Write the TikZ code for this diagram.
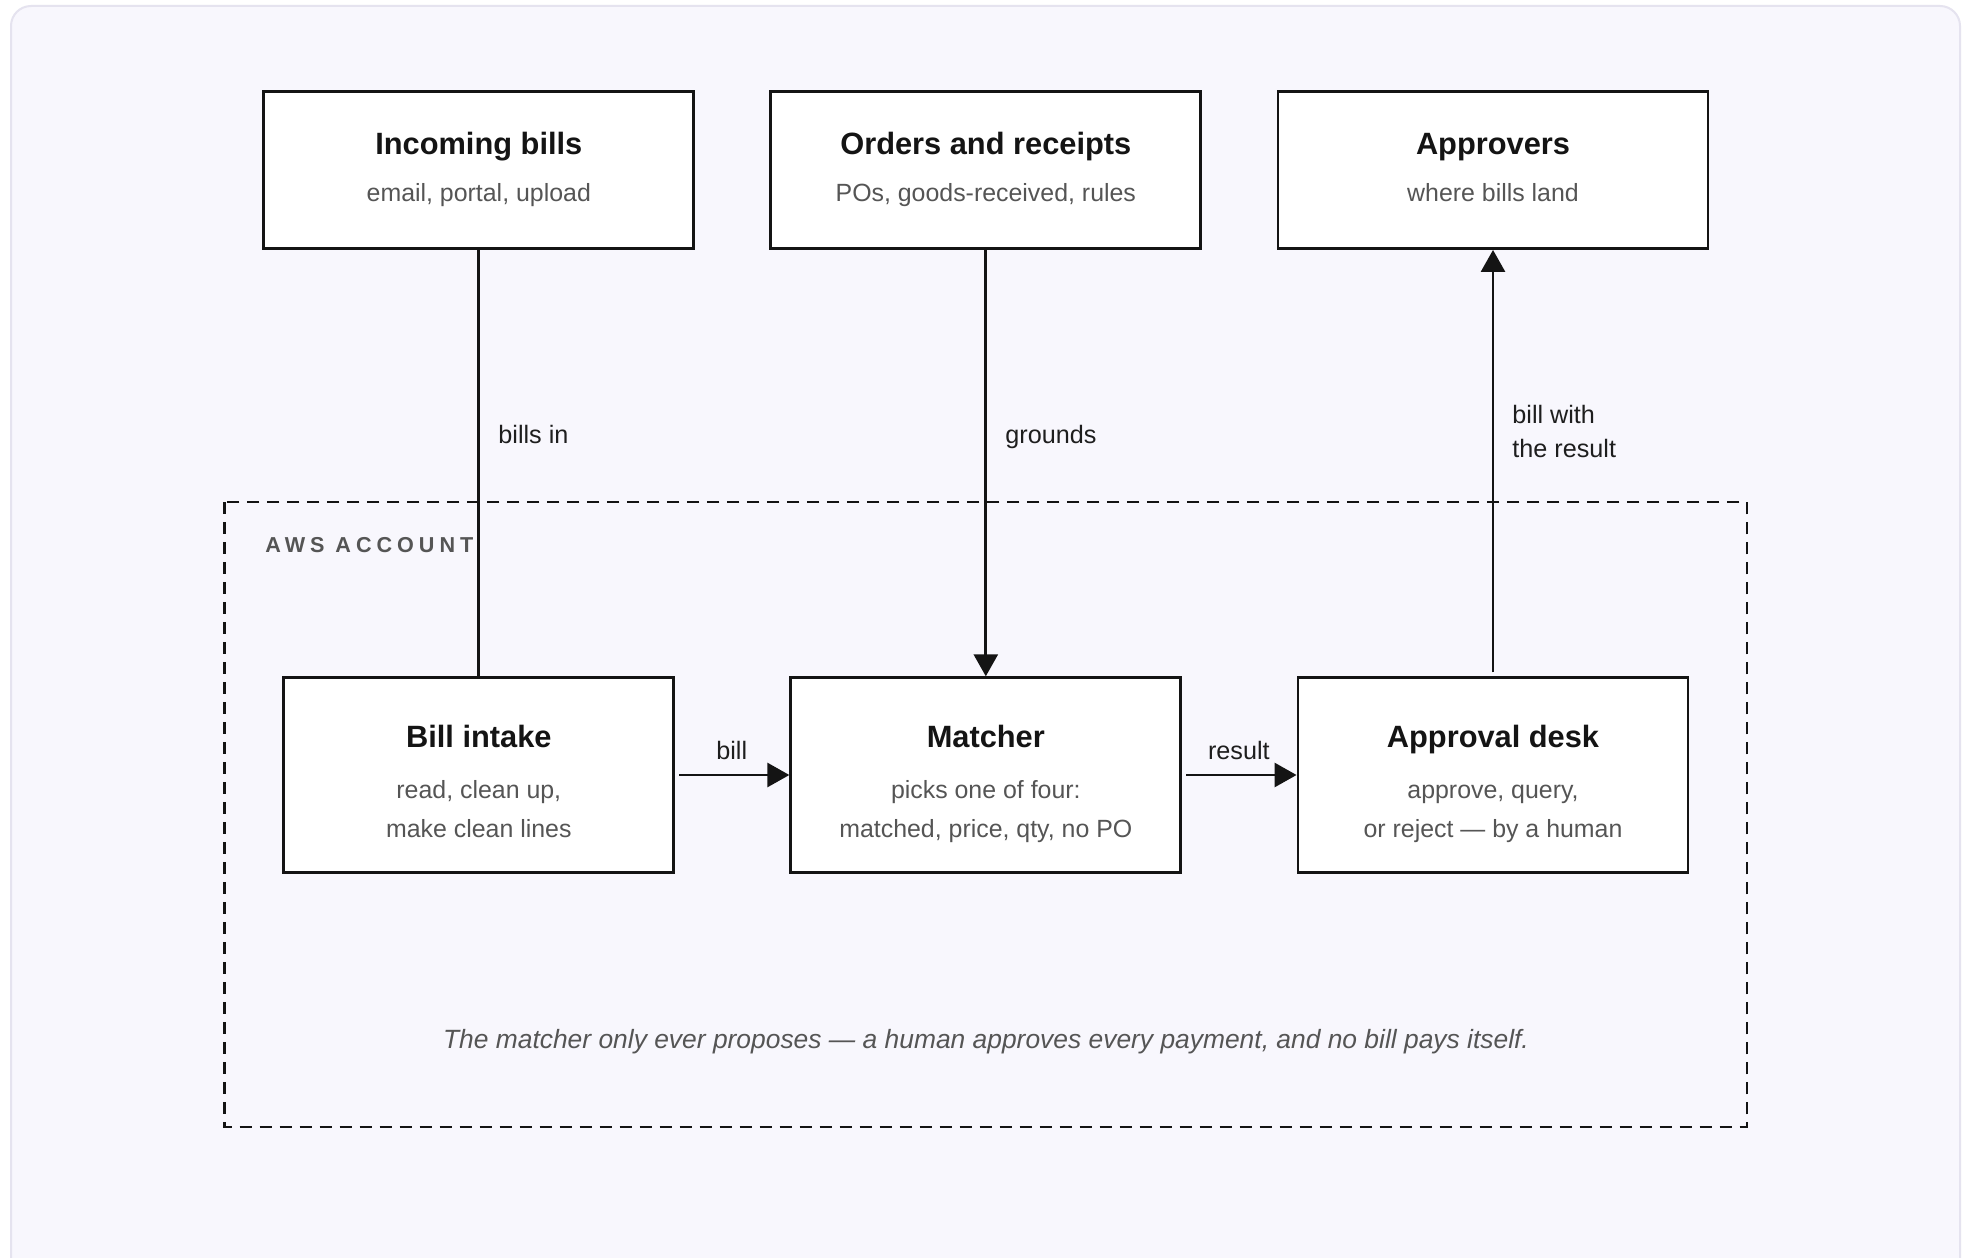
\documentclass[tikz,border=0pt]{standalone}
\usepackage{fontspec}
\setmainfont{Liberation Sans}
\usetikzlibrary{arrows.meta}
\definecolor{bgin}{HTML}{F8F7FD}
\definecolor{framec}{HTML}{E5E3EF}
\definecolor{ink}{HTML}{141414}
\definecolor{subc}{HTML}{555555}
\definecolor{labc}{HTML}{1E1E1E}
\definecolor{awsc}{HTML}{555555}
\tikzset{
  box/.style={draw=ink, line width=1.45pt, fill=white, rectangle, inner sep=0pt},
  topbox/.style={box, minimum width=215pt, minimum height=78.5pt},
  lowbox/.style={box, minimum width=195pt, minimum height=97.25pt},
  ttl/.style={inner sep=0pt, anchor=base, text=ink, font=\fontsize{15.4pt}{18pt}\selectfont\bfseries},
  sub/.style={inner sep=0pt, anchor=base, text=subc, font=\fontsize{12.45pt}{14pt}\selectfont},
  lab/.style={inner sep=0pt, anchor=base west, text=labc, font=\fontsize{12.6pt}{14pt}\selectfont},
  clab/.style={lab, anchor=base},
  conn/.style={draw=ink, line width=1.4pt},
  arr/.style={conn, -{Triangle[length=11pt,width=12pt]}},
  zone/.style={draw=ink, line width=1.3pt, dash pattern=on 6pt off 4pt}
}
\begin{document}
\begin{tikzpicture}[x=0.5pt,y=-0.5pt]
\useasboundingbox (0,0) rectangle (1968,1257);
\fill[white] (0,0) rectangle (1968,1257);
\begin{scope}
\clip (0,0) rectangle (1968,1257);
\draw[framec, line width=1pt, fill=bgin, rounded corners=10pt] (11,6) rectangle (1960,1300);
\end{scope}

% AWS account zone
\draw[zone] (224.7,502) rectangle (1747,1127);
\node[inner sep=0pt, anchor=base west, text=awsc, font=\fontsize{10.8pt}{12pt}\selectfont\bfseries\addfontfeature{LetterSpace=23}] (aws) at (265,552.7) {AWS ACCOUNT};

% top boxes
\node[topbox] (incoming) at (478.8,170) {};
\node[topbox] (orders) at (985.8,170) {};
\node[topbox] (approvers) at (1493,170) {};
\node[ttl] (incomingT) at (478.8,155) {Incoming bills};
\node[sub] (incomingS) at (478.8,202) {email, portal, upload};
\node[ttl] (ordersT) at (985.8,155) {Orders and receipts};
\node[sub] (ordersS) at (985.8,202) {POs, goods-received, rules};
\node[ttl] (approversT) at (1493,155) {Approvers};
\node[sub] (approversS) at (1493,202) {where bills land};

% lower boxes
\node[lowbox] (intake) at (478.8,775) {};
\node[lowbox] (matcher) at (985.8,775) {};
\node[lowbox] (approval) at (1493,775) {};
\node[ttl] (intakeT) at (478.8,747) {Bill intake};
\node[sub] (intakeS1) at (478.8,798) {read, clean up,};
\node[sub] (intakeS2) at (478.8,837) {make clean lines};
\node[ttl] (matcherT) at (985.8,747) {Matcher};
\node[sub] (matcherS1) at (985.8,798) {picks one of four:};
\node[sub] (matcherS2) at (985.8,837) {matched, price, qty, no PO};
\node[ttl] (approvalT) at (1493,747) {Approval desk};
\node[sub] (approvalS1) at (1493,798) {approve, query,};
\node[sub] (approvalS2) at (1493,837) {or reject — by a human};

% connectors
\draw[conn] (incoming.south) -- (intake.north);
\draw[arr] (orders.south) -- (matcher.north);
\draw[arr, shorten <=2pt] (approval.north) -- (approvers.south);
\draw[arr, shorten <=2pt] (intake.east) -- (matcher.west);
\draw[arr, shorten <=2pt] (matcher.east) -- (approval.west);

% connector labels
\node[lab] (billsin) at (498,443) {bills in};
\node[lab] (grounds) at (1005,443) {grounds};
\node[lab] (billwith1) at (1512,423) {bill with};
\node[lab] (billwith2) at (1512,457) {the result};
\node[clab] (billlab) at (731.7,759) {bill};
\node[clab] (resultlab) at (1238.8,759) {result};

% footer
\node[inner sep=0pt, anchor=base, text=subc, font=\fontsize{13.2pt}{15pt}\selectfont\itshape] (note) at (986,1048) {The matcher only ever proposes — a human approves every payment, and no bill pays itself.};
\end{tikzpicture}
\end{document}
